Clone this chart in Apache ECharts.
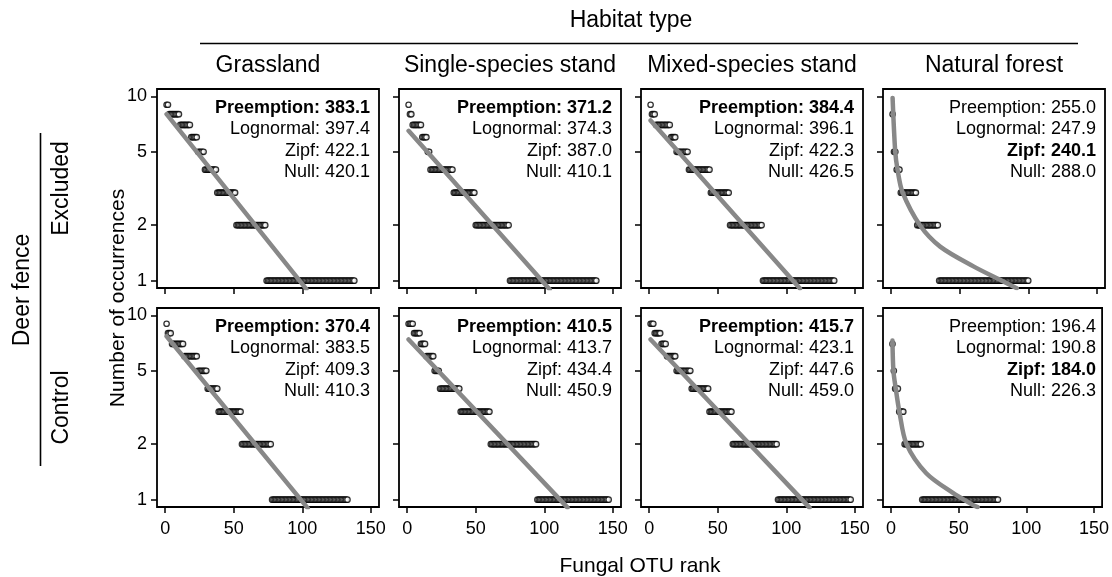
<!DOCTYPE html>
<html><head><meta charset="utf-8">
<script src="https://cdn.jsdelivr.net/npm/echarts@6/dist/echarts.min.js"></script>
<style>html,body{margin:0;padding:0;background:#fff}#c{width:1112px;height:577px}</style>
</head><body><div id="c"></div>
<script>
// ---------- data ----------
const habitats = ['Grassland', 'Single-species stand', 'Mixed-species stand', 'Natural forest'];
const fences = ['Excluded', 'Control'];
const modelNames = ['Preemption', 'Lognormal', 'Zipf', 'Null'];
const xTicks = [0, 50, 100, 150];
const yTicks = [1, 2, 5, 10];

// rank-abundance: occurrence levels and number of OTUs at each level (ranked from most to least)
const exclGrassLevels = [9, 8, 7, 6, 5, 4, 3, 2, 1];
const exclGrassCounts = [2, 8, 8, 5, 5, 9, 14, 22, 65];
const exclSingleLevels = [9, 8, 7, 6, 5, 4, 3, 2, 1];
const exclSingleCounts = [1, 2, 7, 4, 2, 17, 16, 25, 64];
const exclMixedLevels = [9, 8, 7, 6, 5, 4, 3, 2, 1];
const exclMixedCounts = [1, 3, 11, 4, 9, 16, 14, 24, 53];
const exclNaturalLevels = [8, 5, 4, 3, 2, 1];
const exclNaturalCounts = [1, 2, 3, 12, 16, 66];
const ctrlGrassLevels = [9, 8, 7, 6, 5, 4, 3, 2, 1];
const ctrlGrassCounts = [1, 3, 9, 10, 7, 8, 17, 22, 56];
const ctrlSingleLevels = [9, 8, 7, 6, 5, 4, 3, 2, 1];
const ctrlSingleCounts = [4, 5, 4, 6, 4, 15, 22, 34, 53];
const ctrlMixedLevels = [9, 8, 7, 6, 5, 4, 3, 2, 1];
const ctrlMixedCounts = [3, 5, 4, 7, 11, 13, 17, 33, 54];
const ctrlNaturalLevels = [7, 5, 4, 3, 2, 1];
const ctrlNaturalCounts = [1, 1, 3, 4, 13, 57];

// best-model fitted curves (rank, fitted occurrences)
const exclGrassFitRank = [1, 103];
const exclGrassFitValue = [8.0, 0.9];
const exclSingleFitRank = [1, 104];
const exclSingleFitValue = [6.5, 0.895];
const exclMixedFitRank = [1, 110];
const exclMixedFitValue = [7.4, 0.905];
const exclNaturalFitRank = [1, 2.9, 4.6, 8.2, 21.1, 35.7, 60, 79.4, 91.6];
const exclNaturalFitValue = [9.8, 5.04, 4.0, 3.02, 1.99, 1.53, 1.195, 1.01, 0.91];
const ctrlGrassFitRank = [1, 104];
const ctrlGrassFitValue = [7.7, 0.9];
const ctrlSingleFitRank = [1, 117];
const ctrlSingleFitValue = [7.4, 0.905];
const ctrlMixedFitRank = [1, 117];
const ctrlMixedFitValue = [7.4, 0.905];
const ctrlNaturalFitRank = [1, 1.7, 3.4, 6.1, 11.4, 26, 45.4, 60, 64];
const ctrlNaturalFitValue = [7.3, 5.0, 4.02, 3.0, 2.0, 1.39, 1.09, 0.94, 0.91];

// AIC of each model (Preemption, Lognormal, Zipf, Null)
const exclGrassAIC = [383.1, 397.4, 422.1, 420.1];
const exclSingleAIC = [371.2, 374.3, 387.0, 410.1];
const exclMixedAIC = [384.4, 396.1, 422.3, 426.5];
const exclNaturalAIC = [255.0, 247.9, 240.1, 288.0];
const ctrlGrassAIC = [370.4, 383.5, 409.3, 410.3];
const ctrlSingleAIC = [410.5, 413.7, 434.4, 450.9];
const ctrlMixedAIC = [415.7, 423.1, 447.6, 459.0];
const ctrlNaturalAIC = [196.4, 190.8, 184.0, 226.3];

// ---------- layout ----------
const FONT = '"Liberation Sans", Arial, Helvetica, sans-serif';
const gridLeft = [157, 399, 641, 883];
const gridTop = [89, 308];
const gridW = 222, gridH = 199;
const xMin = -6, xMax = 156;
const yMin = 0.912, yMax = 10.96;

const panels = [
  [exclGrassLevels, exclGrassCounts, exclGrassFitRank, exclGrassFitValue, exclGrassAIC],
  [exclSingleLevels, exclSingleCounts, exclSingleFitRank, exclSingleFitValue, exclSingleAIC],
  [exclMixedLevels, exclMixedCounts, exclMixedFitRank, exclMixedFitValue, exclMixedAIC],
  [exclNaturalLevels, exclNaturalCounts, exclNaturalFitRank, exclNaturalFitValue, exclNaturalAIC],
  [ctrlGrassLevels, ctrlGrassCounts, ctrlGrassFitRank, ctrlGrassFitValue, ctrlGrassAIC],
  [ctrlSingleLevels, ctrlSingleCounts, ctrlSingleFitRank, ctrlSingleFitValue, ctrlSingleAIC],
  [ctrlMixedLevels, ctrlMixedCounts, ctrlMixedFitRank, ctrlMixedFitValue, ctrlMixedAIC],
  [ctrlNaturalLevels, ctrlNaturalCounts, ctrlNaturalFitRank, ctrlNaturalFitValue, ctrlNaturalAIC]
];

const grids = [], xAxes = [], yAxes = [], series = [], graphics = [];

panels.forEach((p, i) => {
  const r = Math.floor(i / 4), c = i % 4;
  const [levels, counts, fitR, fitV, aic] = p;
  grids.push({left: gridLeft[c], top: gridTop[r], width: gridW, height: gridH,
    show: true, borderColor: '#000', borderWidth: 1.8, backgroundColor: 'rgba(0,0,0,0)'});
  xAxes.push({gridIndex: i, type: 'value', min: xMin, max: xMax, position: 'bottom',
    axisLine: {show: false, onZero: false}, splitLine: {show: false},
    axisTick: {show: true, inside: false, length: 6, customValues: xTicks, lineStyle: {color: '#000', width: 1.5}},
    axisLabel: {show: r === 1, customValues: xTicks, margin: 13, fontSize: 18, color: '#000', fontFamily: FONT}
  });
  yAxes.push({gridIndex: i, type: 'log', logBase: 10, min: yMin, max: yMax, position: 'left',
    axisLine: {show: false, onZero: false}, splitLine: {show: false}, minorTick: {show: false},
    axisTick: {show: true, inside: false, length: 6, customValues: yTicks, lineStyle: {color: '#000', width: 1.5}},
    axisLabel: {show: c === 0, customValues: yTicks, margin: 10, fontSize: 18, color: '#000', fontFamily: FONT,
      formatter: v => String(Math.round(v))}
  });
  const pts = [];
  let rank = 1;
  levels.forEach((lv, k) => { for (let n = 0; n < counts[k]; n++) { pts.push([rank, lv]); rank++; } });
  series.push({type: 'scatter', xAxisIndex: i, yAxisIndex: i, data: pts, symbol: 'circle', symbolSize: 5.4,
    itemStyle: {color: '#fff', borderColor: '#000', borderWidth: 1.3}, z: 2, silent: true, animation: false});
  series.push({type: 'line', xAxisIndex: i, yAxisIndex: i, data: fitR.map((x, k) => [x, fitV[k]]),
    showSymbol: false, symbol: 'none', smooth: fitR.length > 2 ? 0.3 : false, clip: true,
    lineStyle: {color: '#888888', width: 4.5, cap: 'round', join: 'round'}, z: 3, silent: true, animation: false});
  const best = Math.min(...aic);
  aic.forEach((v, k) => {
    graphics.push({type: 'text', silent: true, style: {
      text: modelNames[k] + ': ' + v.toFixed(1),
      x: gridLeft[c] + gridW - 9, y: gridTop[r] + 19 + k * 21.3,
      align: 'right', verticalAlign: 'middle', fill: '#000',
      font: (v === best ? 'bold ' : '') + '18px ' + FONT}});
  });
});

// strip headers
const plotCenter = (gridLeft[0] + gridLeft[3] + gridW) / 2;
graphics.push({type: 'text', silent: true, style: {text: 'Habitat type', x: plotCenter, y: 21,
  align: 'center', verticalAlign: 'middle', fill: '#000', font: '23px ' + FONT}});
graphics.push({type: 'line', silent: true, shape: {x1: 200, y1: 43.5, x2: 1078, y2: 43.5},
  style: {stroke: '#000', lineWidth: 1.6}});
habitats.forEach((h, c) => {
  graphics.push({type: 'text', silent: true, style: {text: h, x: gridLeft[c] + gridW / 2, y: 66,
    align: 'center', verticalAlign: 'middle', fill: '#000', font: '23px ' + FONT}});
});
graphics.push({type: 'text', silent: true, x: 23, y: 290, rotation: Math.PI / 2,
  style: {text: 'Deer fence', x: 0, y: 0, align: 'center', verticalAlign: 'middle', fill: '#000', font: '23px ' + FONT}});
graphics.push({type: 'line', silent: true, shape: {x1: 40.5, y1: 133, x2: 40.5, y2: 466},
  style: {stroke: '#000', lineWidth: 1.6}});
fences.forEach((f, r) => {
  graphics.push({type: 'text', silent: true, x: 62, y: gridTop[r] + gridH / 2, rotation: Math.PI / 2,
    style: {text: f, x: 0, y: 0, align: 'center', verticalAlign: 'middle', fill: '#000', font: '23px ' + FONT}});
});
graphics.push({type: 'text', silent: true, x: 118, y: 298, rotation: Math.PI / 2,
  style: {text: 'Number of occurrences', x: 0, y: 0, align: 'center', verticalAlign: 'middle', fill: '#000', font: '21px ' + FONT}});
graphics.push({type: 'text', silent: true, style: {text: 'Fungal OTU rank', x: 640, y: 566,
  align: 'center', verticalAlign: 'middle', fill: '#000', font: '21px ' + FONT}});

const chart = echarts.init(document.getElementById('c'), null, {renderer: 'canvas'});
chart.setOption({
  animation: false,
  backgroundColor: '#fff',
  grid: grids, xAxis: xAxes, yAxis: yAxes, series: series, graphic: graphics
});
</script>
</body></html>
